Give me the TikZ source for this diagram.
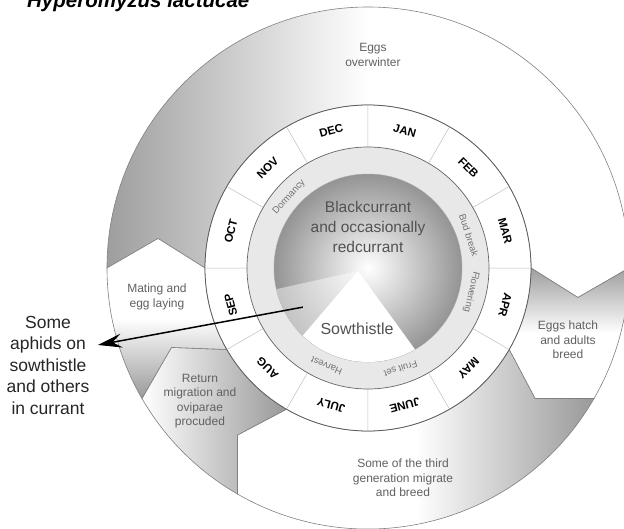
\documentclass[tikz,border=0pt]{standalone}
\usepackage{fontspec}
\setmainfont{Liberation Sans}
\usetikzlibrary{arrows.meta}

\tikzset{
  band/.style={draw=black!50, line width=0.6pt},
  bandtext/.style={text=black!62, align=center, font=\fontsize{12}{14.5}\selectfont},
  monthlabel/.style={font=\bfseries\fontsize{11.5}{12}\selectfont, inner sep=0pt},
  stagelabel/.style={text=black!55, font=\fontsize{9.5}{10}\selectfont, inner sep=0pt},
  hostlabel/.style={text=black!68, align=center, font=\fontsize{15.5}{20}\selectfont},
}

\begin{document}
\begin{tikzpicture}[x=1pt, y=1pt]
  % page frame, circle centre at the origin
  \useasboundingbox (-368,-260) rectangle (256,268);
  \clip (-368,-260) rectangle (256,268);

  % life cycle band - one chevron per stage, grey at its start
  \shade[band, left color=black!38, right color=white, middle color=white]
    (180:163) arc (180:0:163) -- (-8:212) -- (0:261) arc (0:180:261) -- (172:212) -- cycle;
  \shade[band, top color=black!38, bottom color=white, middle color=white]
    (0:163) arc (0:-30:163) -- (-38:212) -- (-30:261) arc (-30:0:261) -- (-8:212) -- cycle;
  \shade[band, right color=black!40, left color=white, middle color=white]
    (-30:163) arc (-30:-120:163) -- (-128:212) -- (-120:261) arc (-120:-30:261) -- (-38:212) -- cycle;
  \shade[band, right color=black!40, left color=white]
    (-120:163) arc (-120:-150:163) -- (-158:212) -- (-150:261) arc (-150:-120:261) -- (-128:212) -- cycle;
  \shade[band, bottom color=black!40, top color=white, middle color=white]
    (-150:163) arc (-150:-180:163) -- (-188:212) -- (-180:261) arc (-180:-150:261) -- (-158:212) -- cycle;

  % months ring
  \draw[draw=black!65, line width=0.8pt, fill=white] (0,0) circle (163);
  \draw[black!25, line width=0.5pt]
    (0:121) -- (0:163) (30:121) -- (30:163) (60:121) -- (60:163) (90:121) -- (90:163)
    (120:121) -- (120:163) (150:121) -- (150:163) (180:121) -- (180:163) (210:121) -- (210:163)
    (240:121) -- (240:163) (270:121) -- (270:163) (300:121) -- (300:163) (330:121) -- (330:163);

  % crop stages ring
  \draw[draw=black!60, line width=0.7pt, fill=black!9] (0,0) circle (121);

  % host plants - currant disc with sowthistle wedge
  \shade[draw=black!35, line width=0.5pt, inner color=white, outer color=black!42] (0,0) circle (94);
  \coordinate (apex) at (-10,-3);
  \fill[white] (apex) -- (226:94) arc (226:300:94) -- cycle;
  \fill[white, opacity=0.45] (apex) -- (193:94) arc (193:226:94) -- cycle;
  \coordinate (src) at (211:76);

  % month names
  \node[monthlabel, rotate=-15] (jan) at (75:142) {JAN};
  \node[monthlabel, rotate=-45] (feb) at (45:142) {FEB};
  \node[monthlabel, rotate=-75] (mar) at (15:142) {MAR};
  \node[monthlabel, rotate=-105] (apr) at (-15:142) {APR};
  \node[monthlabel, rotate=-135] (may) at (-45:142) {MAY};
  \node[monthlabel, rotate=-165] (jun) at (-75:142) {JUNE};
  \node[monthlabel, rotate=165] (jul) at (-105:142) {JULY};
  \node[monthlabel, rotate=135] (aug) at (-135:142) {AUG};
  \node[monthlabel, rotate=105] (sep) at (-165:142) {SEP};
  \node[monthlabel, rotate=75] (oct) at (165:142) {OCT};
  \node[monthlabel, rotate=45] (nov) at (135:142) {NOV};
  \node[monthlabel, rotate=15] (dec) at (105:142) {DEC};

  % crop stages
  \node[stagelabel, rotate=48] (dormancy) at (138:106) {Dormancy};
  \node[stagelabel, rotate=-72] (budbreak) at (18:106) {Bud break};
  \node[stagelabel, rotate=-103] (flowering) at (-13:106) {Flowering};
  \node[stagelabel, rotate=-162] (fruitset) at (-72:106) {Fruit set};
  \node[stagelabel, rotate=157] (harvest) at (-113:106) {Harvest};

  % hosts
  \node[hostlabel] (currant) at (0,41) {Blackcurrant\\and occasionally\\redcurrant};
  \node[hostlabel, font=\fontsize{16}{20}\selectfont] (sowthistle) at (-11,-61) {Sowthistle};

  % stages of the aphid
  \node[bandtext] (overwinter) at (5,213) {Eggs\\overwinter};
  \node[bandtext] (hatch) at (200,-72) {Eggs hatch\\and adults\\breed};
  \node[bandtext] (third) at (35,-210) {Some of the third\\generation migrate\\and breed};
  \node[bandtext] (return) at (-168,-133) {Return\\migration and\\oviparae\\procuded};
  \node[bandtext] (mating) at (-211,-29) {Mating and\\egg laying};

  % title and side note
  \node[anchor=base west, inner sep=0pt, font=\bfseries\itshape\fontsize{20.5}{24}\selectfont] (title) at (-341,261) {Hyperomyzus lactucae};
  \node[align=center, text=black!85, font=\fontsize{17.5}{21.5}\selectfont] (aphids) at (-320,-97) {Some\\aphids on\\sowthistle\\and others\\in currant};
  \draw[line width=1.5pt, -{Stealth[length=24pt, width=14pt, inset=9pt]}] (src) -- ([xshift=5pt, yshift=20pt]aphids.east);
\end{tikzpicture}
\end{document}
